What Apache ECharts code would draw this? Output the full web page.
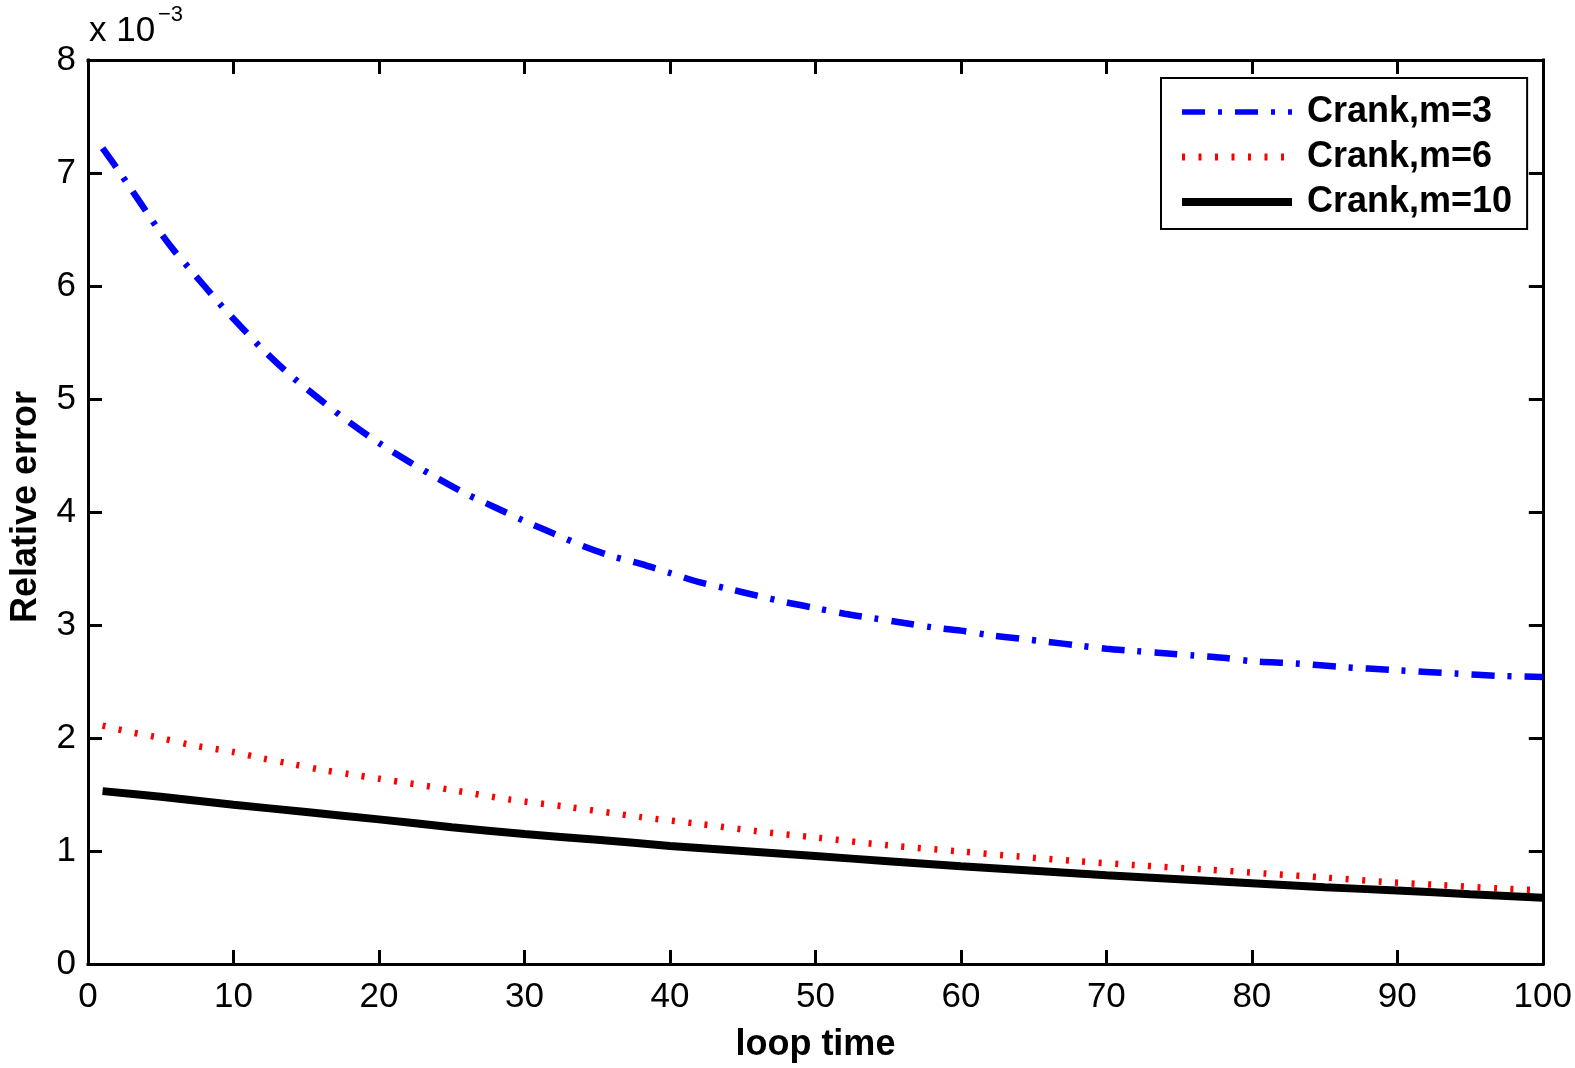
<!DOCTYPE html>
<html>
<head>
<meta charset="utf-8">
<script src="https://cdn.jsdelivr.net/npm/echarts@6/dist/echarts.min.js"></script>
<style>
html,body{margin:0;padding:0;background:#fff;}
#chart{width:1575px;height:1068px;}
</style>
</head>
<body>
<div id="chart"></div>
<script>
// values in units of 1e-3
const seriesNames = ['Crank,m=3', 'Crank,m=6', 'Crank,m=10'];
const xBlue = [1,2,3,4,5,6,7,8,9,10,12,14,16,18,20,22,24,26,28,30,32,34,36,38,40,42,44,46,48,50,52,54,56,58,60,62,64,66,68,70,72,74,76,78,80,83,86,90,94,97,100];
const yBlue = [7.22,7.04,6.85,6.66,6.47,6.30,6.15,6.00,5.85,5.71,5.44,5.20,4.99,4.79,4.61,4.45,4.30,4.16,4.04,3.92,3.81,3.70,3.61,3.54,3.46,3.38,3.32,3.26,3.20,3.15,3.10,3.06,3.02,2.98,2.95,2.91,2.88,2.85,2.82,2.79,2.77,2.75,2.73,2.71,2.68,2.66,2.63,2.60,2.57,2.55,2.54];
const xRed = [1,3,5,7,10,12,14,16,18,20,25,29,33,38,42,46,50,55,60,64,68,72,77,81,85,89,93,97,100];
const yRed = [2.11,2.05,2.00,1.94,1.876,1.82,1.77,1.72,1.68,1.64,1.54,1.455,1.39,1.30,1.24,1.175,1.12,1.05,0.995,0.951,0.91,0.875,0.835,0.80,0.765,0.728,0.698,0.669,0.652];
const xBlack = [1,5,10,15,20,25,30,35,40,45,50,55,60,65,70,75,80,85,90,95,100];
const yBlack = [1.53,1.48,1.41,1.345,1.28,1.21,1.15,1.10,1.045,1.0,0.955,0.91,0.865,0.825,0.785,0.75,0.715,0.68,0.65,0.618,0.587];
const xTicks = {min:0, max:100, interval:10};
const yTicks = {min:0, max:8, interval:1};

const FONT = '"Liberation Sans", Arial, Helvetica, sans-serif';
const zip = (xs, ys) => xs.map((x, i) => [x, ys[i]]);

const blueLine = {color:'#0000ff', width:6.5, type:[23,13,4,13], cap:'butt'};
const redLine = {color:'#ff0000', width:6.5, type:[3,13.5], cap:'butt'};
const blackLine = {color:'#000000', width:8, type:'solid', cap:'butt'};

const chart = echarts.init(document.getElementById('chart'), null, {renderer:'canvas'});
const axisLineStyle = {color:'#000', width:3, cap:'square'};
const tickStyle = {color:'#000', width:3};

const option = {
  backgroundColor:'#fff',
  animation:false,
  grid:{left:88, top:60, right:32, bottom:102, containLabel:false},
  xAxis:[
    {type:'value', min:xTicks.min, max:xTicks.max, interval:xTicks.interval, position:'bottom',
     axisLine:{show:true, onZero:false, lineStyle:axisLineStyle},
     axisTick:{show:true, inside:true, length:14, lineStyle:tickStyle},
     axisLabel:{show:true, color:'#000', fontSize:35, fontFamily:FONT, margin:16},
     splitLine:{show:false},
     name:'loop time', nameLocation:'middle', nameGap:63,
     nameTextStyle:{color:'#000', fontSize:36, fontWeight:'bold', fontFamily:FONT}},
    {type:'value', min:xTicks.min, max:xTicks.max, interval:xTicks.interval, position:'top',
     axisLine:{show:true, onZero:false, lineStyle:axisLineStyle},
     axisTick:{show:true, inside:true, length:14, lineStyle:tickStyle},
     axisLabel:{show:false}, splitLine:{show:false}}
  ],
  yAxis:[
    {type:'value', min:yTicks.min, max:yTicks.max, interval:yTicks.interval, position:'left',
     axisLine:{show:true, onZero:false, lineStyle:axisLineStyle},
     axisTick:{show:true, inside:true, length:14, lineStyle:tickStyle},
     axisLabel:{show:true, color:'#000', fontSize:35, fontFamily:FONT, margin:12},
     splitLine:{show:false},
     name:'Relative error', nameLocation:'middle', nameGap:44,
     nameTextStyle:{color:'#000', fontSize:36, fontWeight:'bold', fontFamily:FONT, padding:[0,0,0,10]}},
    {type:'value', min:yTicks.min, max:yTicks.max, interval:yTicks.interval, position:'right',
     axisLine:{show:true, onZero:false, lineStyle:axisLineStyle},
     axisTick:{show:true, inside:true, length:14, lineStyle:tickStyle},
     axisLabel:{show:false}, splitLine:{show:false}}
  ],
  legend:{
    show:true, orient:'vertical', left:1161, top:78,
    data:[
      {name:seriesNames[0], itemStyle:{opacity:0}, lineStyle:Object.assign({}, blueLine, {width:5.5})},
      {name:seriesNames[1], itemStyle:{opacity:0}, lineStyle:Object.assign({}, redLine, {width:7})},
      {name:seriesNames[2], itemStyle:{opacity:0}, lineStyle:blackLine}
    ],
    itemStyle:{opacity:0},
    borderColor:'#000', borderWidth:2, backgroundColor:'#fff',
    padding:[14,15,7,17], itemGap:5, itemWidth:110, itemHeight:20,
    formatter:function(n){return ' ' + n;},
    textStyle:{color:'#000', fontSize:36, fontWeight:'bold', fontFamily:FONT, lineHeight:40},
    selectedMode:false
  },
  graphic:[
    {type:'text', left:89, top:14, z:10, style:{text:'x 10', fill:'#000', font:'35px ' + FONT}},
    {type:'text', left:158, top:4, z:10, style:{text:'\u22123', fill:'#000', font:'22px ' + FONT}}
  ],
  series:[
    {name:seriesNames[0], type:'line', data:zip(xBlue, yBlue), symbol:'none', smooth:0.3,
     lineStyle:blueLine, itemStyle:{color:'#0000ff'}},
    {name:seriesNames[1], type:'line', data:zip(xRed, yRed), symbol:'none', smooth:0.3,
     lineStyle:redLine, itemStyle:{color:'#ff0000'}},
    {name:seriesNames[2], type:'line', data:zip(xBlack, yBlack), symbol:'none', smooth:0.3,
     lineStyle:blackLine, itemStyle:{color:'#000000'}}
  ]
};
chart.setOption(option);
</script>
</body>
</html>
